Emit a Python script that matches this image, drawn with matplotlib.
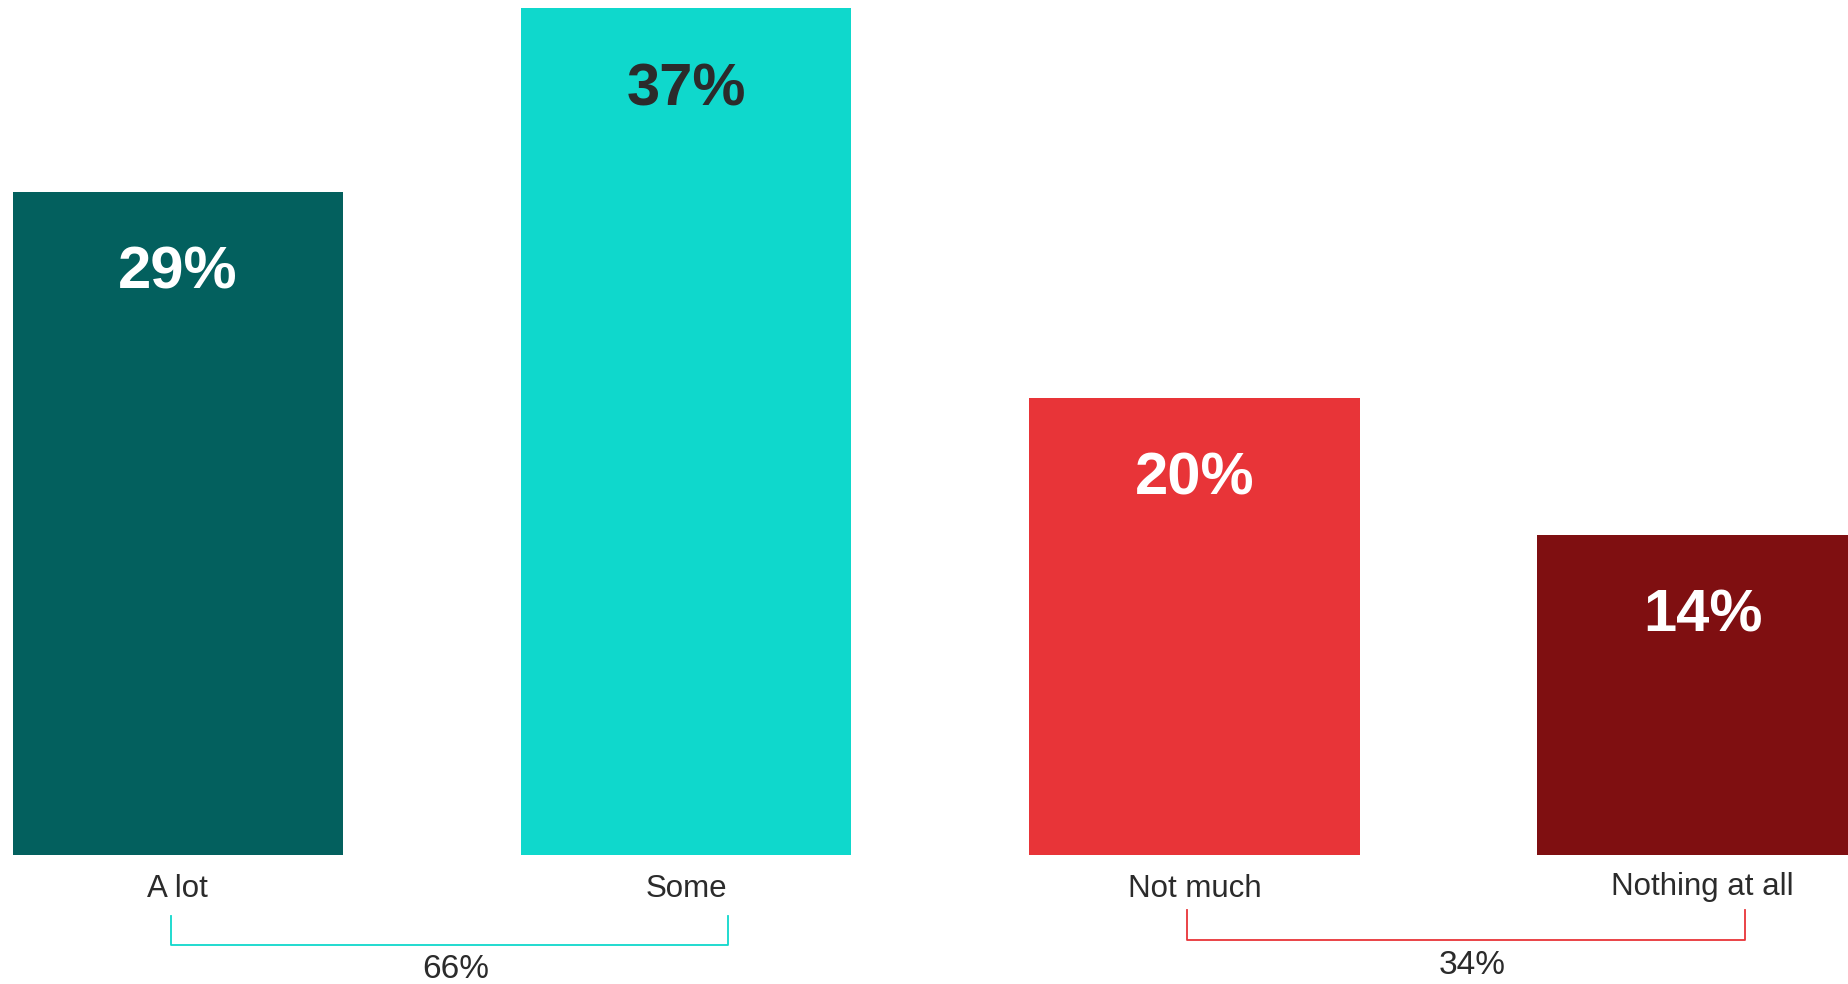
import matplotlib
matplotlib.use("Agg")
import matplotlib.pyplot as plt

categories = ["A lot", "Some", "Not much", "Nothing at all"]
values = [29, 37, 20, 14]
bar_colors = ["#03605e", "#0fd8cc", "#e83438", "#7f0f11"]
label_colors = ["white", "#2b2b2b", "white", "white"]
groups = [("66%", 0, 1, "#0fd8cc"), ("34%", 2, 3, "#e83438")]

plt.rcParams['font.family'] = ['Liberation Sans', 'DejaVu Sans']

fig = plt.figure(figsize=(18.49, 9.84), dpi=100)
ax = fig.add_axes([0, 0.1307, 1, 0.8693])
xs = list(range(len(categories)))
ax.bar(xs, values, width=0.65, color=bar_colors)
ax.set_xlim(-0.35, 3.288)
ax.set_ylim(0, 37.37)
ax.axis("off")

for x, v, c in zip(xs, values, label_colors):
    ax.text(x, v - 3.55, f"{v}%", ha="center", va="center", fontsize=43,
            fontweight="bold", color=c)

label_y = [-1.49, -1.49, -1.49, -1.39]
for x, name, ly in zip(xs, categories, label_y):
    ax.text(x, ly, name, ha="center", va="center", fontsize=22.5,
            color="#2b2b2b", clip_on=False)

bracket_y = [(-2.63, -3.92, -5.0), (-2.37, -3.71, -4.79)]
for (txt, a, b, col), (ytop, ybot, ytxt) in zip(groups, bracket_y):
    x0 = a - 0.014
    x1 = b + 0.083
    ax.plot([x0, x0, x1, x1], [ytop, ybot, ybot, ytop], color=col, lw=1.3,
            clip_on=False, solid_joinstyle="round")
    ax.text((x0 + x1) / 2 + 0.012, ytxt, txt, ha="center", va="center",
            fontsize=24, color="#2b2b2b", clip_on=False)

fig.savefig("out.png", dpi=100)
